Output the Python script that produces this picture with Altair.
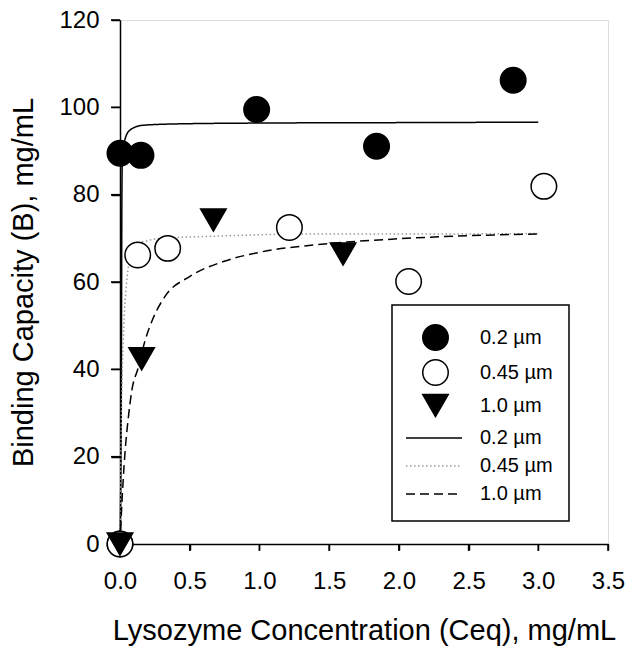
import altair as alt
import pandas as pd

FONT = "Liberation Sans"
series_names = ["0.2 µm", "0.45 µm", "1.0 µm"]
fit_names = ["0.2 µm fit", "0.45 µm fit", "1.0 µm fit"]

# measured points
p02_x = [0.0, 0.0, 0.15, 0.98, 1.84, 2.82]
p02_y = [0.0, 89.5, 89.0, 99.5, 91.1, 106.2]
p045_x = [0.0, 0.127, 0.342, 1.215, 2.07, 3.04]
p045_y = [0.0, 66.2, 67.7, 72.5, 60.1, 81.9]
p10_x = [0.0, 0.155, 0.67, 1.60]
p10_y = [0.0, 42.4, 74.2, 66.4]

# fitted curves
c02_x = [0.0, 0.010, 0.013, 0.016, 0.022, 0.036, 0.072, 0.165, 0.4, 1.0, 2.0, 3.0]
c02_y = [0.0, 40.0, 75.0, 87.0, 90.5, 92.7, 94.8, 95.9, 96.2, 96.4, 96.5, 96.6]
c045_x = [0.0, 0.006, 0.012, 0.024, 0.048, 0.08, 0.108, 0.2, 0.3, 0.6, 1.4, 2.3, 3.0]
c045_y = [0.0, 20.0, 33.0, 47.2, 60.1, 66.0, 68.5, 69.5, 70.0, 70.4, 71.0, 71.0, 71.1]
c10_x = [0.0, 0.01, 0.036, 0.06, 0.084, 0.131, 0.179, 0.239, 0.323, 0.502, 0.753, 1.0, 1.5, 2.0, 2.5, 3.0]
c10_y = [0.0, 7.0, 21.0, 29.0, 35.0, 40.4, 46.5, 51.8, 56.7, 61.3, 64.8, 66.8, 68.8, 69.9, 70.6, 71.0]

x_ticks = [0, 0.5, 1.0, 1.5, 2.0, 2.5, 3.0, 3.5]
y_ticks = [0, 20, 40, 60, 80, 100, 120]

pts_rows = []
for name, xs, ys in zip(series_names, [p02_x, p045_x, p10_x], [p02_y, p045_y, p10_y]):
    for a, b in zip(xs, ys):
        pts_rows.append({"x": a, "y": b, "sp": name})
pts = pd.DataFrame(pts_rows)

line_rows = []
for name, xs, ys in zip(fit_names, [c02_x, c045_x, c10_x], [c02_y, c045_y, c10_y]):
    for a, b in zip(xs, ys):
        line_rows.append({"x": a, "y": b, "sl": name})
lines = pd.DataFrame(line_rows)

W, H = 488, 524
xscale = alt.Scale(domain=[0, 3.5], nice=False, zero=False)
yscale = alt.Scale(domain=[0, 120], nice=False)

common_axis = dict(grid=False, ticks=True, labelFlush=False, labelOverlap=False,
                   labelFontSize=24, titleFontSize=29, labelFont=FONT, titleFont=FONT,
                   labelColor="black", titleColor="black", domainColor="black", tickColor="black",
                   domainWidth=1.5, tickWidth=1.5, titleFontWeight="normal")
xaxis = alt.Axis(values=x_ticks, format=".1f", title="Lysozyme Concentration (Ceq), mg/mL",
                 tickSize=6, labelPadding=19, titlePadding=23, **common_axis)
yaxis = alt.Axis(values=y_ticks, format="d", title="Binding Capacity (B), mg/mL",
                 tickSize=9, labelPadding=12, titlePadding=20, **common_axis)

line_legend = alt.Legend(title=None, orient="none", legendX=299, legendY=403, padding=0,
                         symbolType="M-2,0H2", symbolSize=784, symbolStrokeWidth=1.5,
                         labelOffset=31, rowPadding=3, labelFontSize=20, labelFont=FONT,
                         labelColor="black", labelExpr="replace(datum.label, ' fit', '')")
point_legend = alt.Legend(title=None, orient="none", legendX=302, legendY=304, padding=0,
                          symbolSize=650, symbolStrokeWidth=1.5,
                          labelOffset=31, rowPadding=2, labelFontSize=20, labelFont=FONT,
                          labelColor="black", symbolOpacity=1)

box = alt.Chart(alt.Data(values=[{}])).mark_rect(fill="white", stroke="black", strokeWidth=1.5).encode(
    x=alt.value(272), x2=alt.value(449), y=alt.value(285), y2=alt.value(501)
)

# explicit tick marks along the axes, from the tick arrays
xtick_marks = alt.Chart(pd.DataFrame({"v": x_ticks})).mark_rule(color="black", strokeWidth=1.5).encode(
    x=alt.X("v:Q", scale=xscale, axis=xaxis), y=alt.value(H), y2=alt.value(H + 7)
)
ytick_marks = alt.Chart(pd.DataFrame({"v": y_ticks})).mark_rule(color="black", strokeWidth=1.5).encode(
    y=alt.Y("v:Q", scale=yscale, axis=yaxis), x=alt.value(-9), x2=alt.value(0)
)

curve = alt.Chart(lines).mark_line(strokeWidth=1.5, interpolate="monotone").encode(
    x=alt.X("x:Q", scale=xscale, axis=xaxis),
    y=alt.Y("y:Q", scale=yscale, axis=yaxis),
    detail="sl:N",
    stroke=alt.Stroke("sl:N", scale=alt.Scale(domain=fit_names, range=["black", "#9a9a9a", "black"]),
                      legend=line_legend),
    strokeDash=alt.StrokeDash("sl:N", scale=alt.Scale(domain=fit_names, range=[[1, 0], [1.5, 2.5], [9, 5]]),
                              legend=line_legend),
)

points = alt.Chart(pts).mark_point(filled=True, size=650, stroke="black", strokeWidth=1.5, opacity=1).encode(
    x=alt.X("x:Q", scale=xscale, axis=xaxis),
    y=alt.Y("y:Q", scale=yscale, axis=yaxis),
    shape=alt.Shape("sp:N", scale=alt.Scale(domain=series_names, range=["circle", "circle", "triangle-down"]),
                    legend=point_legend),
    fill=alt.Fill("sp:N", scale=alt.Scale(domain=series_names, range=["black", "white", "black"]),
                  legend=point_legend),
)

chart = alt.layer(box, xtick_marks, ytick_marks, curve, points).properties(
    width=W, height=H,
    autosize="none",
    padding={"left": 112, "top": 12, "right": 17, "bottom": 103},
).configure_view(stroke="black", strokeWidth=1.5).configure_axis(
    ticks=True, tickColor="black", tickWidth=1.5
).configure(background="white")

chart.save("out.html", embed_options={"renderer": "svg", "actions": False})
